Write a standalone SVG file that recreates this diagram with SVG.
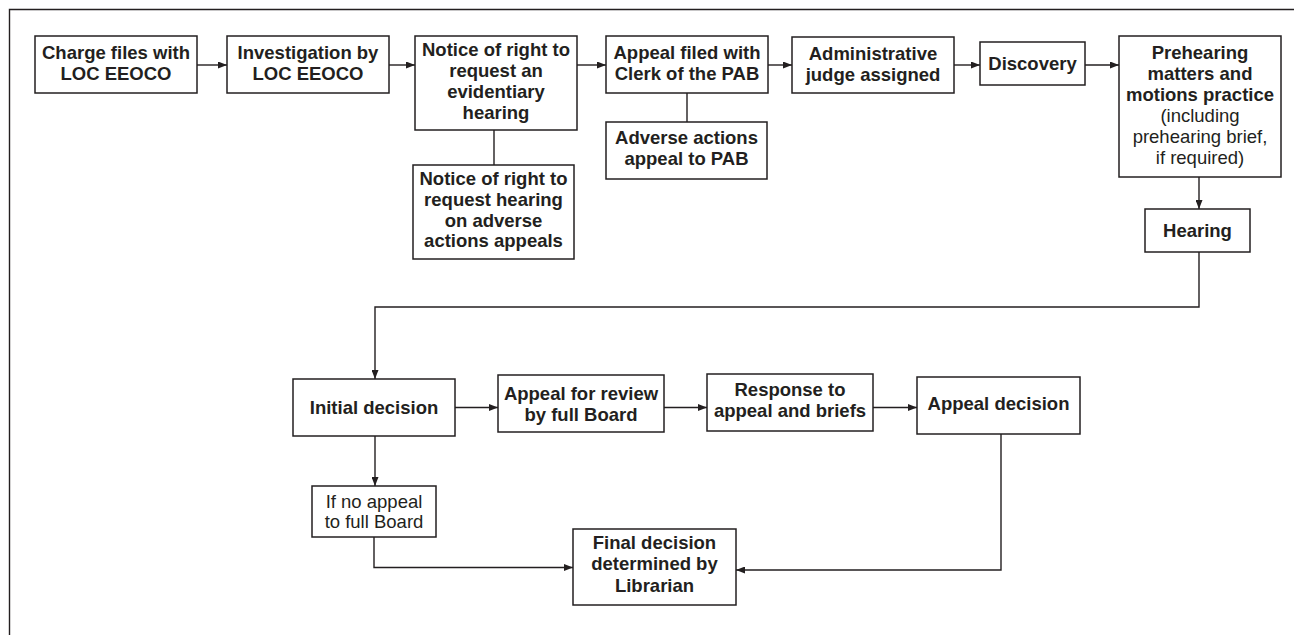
<svg xmlns="http://www.w3.org/2000/svg" width="1294" height="635" viewBox="0 0 1294 635">
<defs>
<style>
.box{fill:#fff;stroke:#231f20;stroke-width:1.5}
.ln{fill:none;stroke:#231f20;stroke-width:1.4}
.t{font-family:"Liberation Sans",Arial,sans-serif;font-size:18.5px;font-weight:bold;fill:#231f20;text-anchor:middle}
.r{font-weight:normal}
</style>
<marker id="ah" markerUnits="userSpaceOnUse" markerWidth="9" markerHeight="7" refX="9" refY="3.5" orient="auto">
<path d="M0,0 L9,3.5 L0,7 z" fill="#231f20"/>
</marker>
</defs>
<rect width="1294" height="635" fill="#fff"/>
<path class="ln" d="M9.5,635 V9.5 H1294" stroke-width="1.5"/>

<g id="connectors">
<path class="ln" d="M197,65 H227" marker-end="url(#ah)"/>
<path class="ln" d="M389,65 H415" marker-end="url(#ah)"/>
<path class="ln" d="M494,130 V165"/>
<path class="ln" d="M577,65 H606" marker-end="url(#ah)"/>
<path class="ln" d="M687,93 V122"/>
<path class="ln" d="M768,65 H792" marker-end="url(#ah)"/>
<path class="ln" d="M954,65 H980" marker-end="url(#ah)"/>
<path class="ln" d="M1085,65 H1119" marker-end="url(#ah)"/>
<path class="ln" d="M1199,177 V209" marker-end="url(#ah)"/>
<path class="ln" d="M1199,252 V307 H375 V379" marker-end="url(#ah)"/>
<path class="ln" d="M455,407.5 H498" marker-end="url(#ah)"/>
<path class="ln" d="M664,407.5 H707" marker-end="url(#ah)"/>
<path class="ln" d="M873,407.5 H917" marker-end="url(#ah)"/>
<path class="ln" d="M375,436 V486" marker-end="url(#ah)"/>
<path class="ln" d="M374,537 V567.5 H573" marker-end="url(#ah)"/>
<path class="ln" d="M1001,434 V570 H736" marker-end="url(#ah)"/>
</g>

<g id="n1"><rect class="box" x="35" y="36" width="162" height="57"/>
<text class="t"><tspan x="116" y="58.5">Charge files with</tspan><tspan x="116" y="80">LOC EEOCO</tspan></text></g>

<g id="n2"><rect class="box" x="227" y="36" width="162" height="57"/>
<text class="t"><tspan x="308" y="58.5">Investigation by</tspan><tspan x="308" y="80">LOC EEOCO</tspan></text></g>

<g id="n3"><rect class="box" x="415" y="36" width="162" height="94"/>
<text class="t"><tspan x="496" y="56">Notice of right to</tspan><tspan x="496" y="77">request an</tspan><tspan x="496" y="98">evidentiary</tspan><tspan x="496" y="119">hearing</tspan></text></g>

<g id="n4"><rect class="box" x="413" y="165" width="161" height="94"/>
<text class="t"><tspan x="493.5" y="185">Notice of right to</tspan><tspan x="493.5" y="206">request hearing</tspan><tspan x="493.5" y="226.5">on adverse</tspan><tspan x="493.5" y="247">actions appeals</tspan></text></g>

<g id="n5"><rect class="box" x="606" y="36" width="162" height="57"/>
<text class="t"><tspan x="687" y="58.5">Appeal filed with</tspan><tspan x="687" y="79.5">Clerk of the PAB</tspan></text></g>

<g id="n6"><rect class="box" x="606" y="122" width="161" height="57"/>
<text class="t"><tspan x="686.5" y="144">Adverse actions</tspan><tspan x="686.5" y="165">appeal to PAB</tspan></text></g>

<g id="n7"><rect class="box" x="792" y="37" width="162" height="56"/>
<text class="t"><tspan x="873" y="60">Administrative</tspan><tspan x="873" y="80.5">judge assigned</tspan></text></g>

<g id="n8"><rect class="box" x="980" y="42" width="105" height="43"/>
<text class="t" x="1032.5" y="69.5">Discovery</text></g>

<g id="n9"><rect class="box" x="1119" y="36" width="162" height="141"/>
<text class="t"><tspan x="1200" y="59">Prehearing</tspan><tspan x="1200" y="80">matters and</tspan><tspan x="1200" y="101">motions practice</tspan><tspan class="r" x="1200" y="122">(including</tspan><tspan class="r" x="1200" y="143">prehearing brief,</tspan><tspan class="r" x="1200" y="164">if required)</tspan></text></g>

<g id="n10"><rect class="box" x="1145" y="209" width="105" height="43"/>
<text class="t" x="1197.5" y="236.5">Hearing</text></g>

<g id="n11"><rect class="box" x="293" y="379" width="162" height="57"/>
<text class="t" x="374" y="413.5">Initial decision</text></g>

<g id="n12"><rect class="box" x="498" y="375" width="166" height="57"/>
<text class="t"><tspan x="581" y="399.5">Appeal for review</tspan><tspan x="581" y="420.5">by full Board</tspan></text></g>

<g id="n13"><rect class="box" x="707" y="374" width="166" height="57"/>
<text class="t"><tspan x="790" y="395.5">Response to</tspan><tspan x="790" y="416.5">appeal and briefs</tspan></text></g>

<g id="n14"><rect class="box" x="917" y="377" width="163" height="57"/>
<text class="t" x="998.5" y="409.5">Appeal decision</text></g>

<g id="n15"><rect class="box" x="312" y="486" width="124" height="51"/>
<text class="t r"><tspan x="374" y="507.5">If no appeal</tspan><tspan x="374" y="528">to full Board</tspan></text></g>

<g id="n16"><rect class="box" x="573" y="529" width="163" height="76"/>
<text class="t"><tspan x="654.5" y="548.5">Final decision</tspan><tspan x="654.5" y="570">determined by</tspan><tspan x="654.5" y="591.5">Librarian</tspan></text></g>
</svg>
